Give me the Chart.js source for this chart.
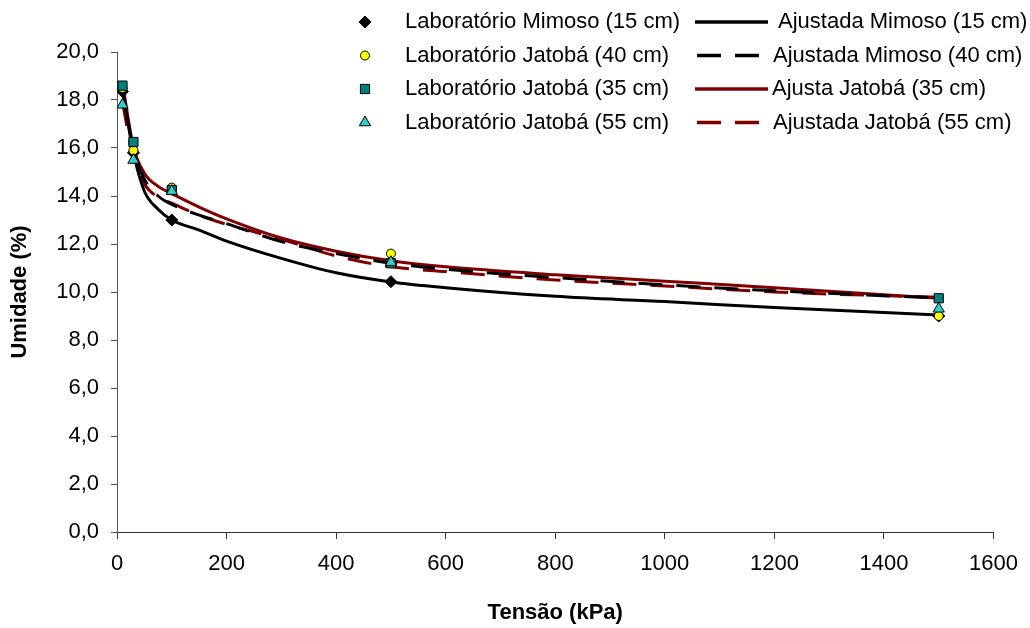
<!DOCTYPE html>
<html lang="pt">
<head>
<meta charset="utf-8">
<title>Umidade x Tensão</title>
<script src="https://cdn.jsdelivr.net/npm/chart.js@4.4.1/dist/chart.umd.min.js"></script>
<style>
	html, body { margin: 0; padding: 0; background: #fff; }
	#chart { display: block; }
</style>
</head>
<body>
<canvas id="chart" width="1030" height="628"></canvas>
<script>
// pontos medidos em laboratório (tensão em kPa, umidade em %)
const tensaoLab = [10, 30, 100, 500, 1500];
const labMimoso15 = [18.35, 15.8, 13.0, 10.43, 9.0];
const labJatoba40 = [18.5, 15.9, 14.35, 11.6, 9.0];
const labJatoba35 = [18.6, 16.25, 14.25, 11.2, 9.74];
const labJatoba55 = [17.8, 15.5, 14.2, 11.24, 9.3];

// curvas ajustadas
const tensaoAjuste = [10, 30, 50, 75, 100, 150, 200, 300, 400, 500, 600, 800, 1000, 1200, 1500];
const ajMimoso15 = [18.4, 15.8, 14.2, 13.45, 13.0, 12.58, 12.12, 11.4, 10.8, 10.42, 10.18, 9.82, 9.6, 9.35, 9.04];
const ajMimoso40 = [18.5, 15.95, 14.7, 14.0, 13.65, 13.2, 12.85, 12.1, 11.6, 11.2, 10.95, 10.6, 10.3, 10.05, 9.75];
const ajJatoba35 = [18.7, 16.05, 14.95, 14.4, 14.1, 13.54, 13.05, 12.25, 11.7, 11.3, 11.05, 10.72, 10.45, 10.18, 9.74];
const ajJatoba55 = [17.9, 15.6, 14.5, 13.95, 13.7, 13.2, 12.82, 12.2, 11.5, 11.05, 10.85, 10.5, 10.25, 10.0, 9.78];

const nomesLab = [
	"Laboratório Mimoso (15 cm)",
	"Laboratório Jatobá (40 cm)",
	"Laboratório Jatobá (35 cm)",
	"Laboratório Jatobá (55 cm)",
];
const nomesAjuste = [
	"Ajustada Mimoso (15 cm)",
	"Ajustada Mimoso (40 cm)",
	"Ajusta Jatobá (35 cm)",
	"Ajustada Jatobá (55 cm)",
];

const eixoX = { min: 0, max: 1600, passo: 200 };
const eixoY = { min: 0, max: 20, passo: 2 };

const FONTE = "'Liberation Sans', Arial, sans-serif";
const VINHO = "#800000";

function pares(xs, ys) {
	return xs.map((x, i) => ({ x: x, y: ys[i] }));
}

function pontos(label, ys, estilo, cor, raio, ordem) {
	return {
		label: label,
		data: pares(tensaoLab, ys),
		showLine: false,
		pointStyle: estilo,
		pointRadius: raio,
		pointBackgroundColor: cor,
		backgroundColor: cor,
		pointBorderColor: "#000",
		pointBorderWidth: 1,
		order: ordem,
	};
}

function curva(label, ys, cor, tracejado) {
	return {
		label: label,
		data: pares(tensaoAjuste, ys),
		showLine: true,
		borderColor: cor,
		borderWidth: 3,
		borderDash: tracejado ? [24, 14] : [],
		pointRadius: 0,
		cubicInterpolationMode: "monotone",
		fill: false,
		order: 10,
	};
}

const datasets = [
	pontos(nomesLab[0], labMimoso15, "rectRot", "#000000", 6, 3),
	pontos(nomesLab[1], labJatoba40, "circle", "#ffff00", 4.5, 2),
	pontos(nomesLab[2], labJatoba35, "rect", "#008080", 6.5, 1),
	pontos(nomesLab[3], labJatoba55, "triangle", "#33cccc", 6.5, 0),
	curva(nomesAjuste[0], ajMimoso15, "#000000", false),
	curva(nomesAjuste[1], ajMimoso40, "#000000", true),
	curva(nomesAjuste[2], ajJatoba35, VINHO, false),
	curva(nomesAjuste[3], ajJatoba55, VINHO, true),
];

// legenda em duas colunas, desenhada direto no canvas
const linhasLegenda = [22, 55.5, 89, 122.5];
const xTextoAjuste = [778, 773, 772, 773];

const legendaPlugin = {
	id: "legendaDupla",
	afterDraw(chart) {
		const ctx = chart.ctx;
		const sets = chart.data.datasets;
		ctx.save();
		ctx.font = "22px " + FONTE;
		ctx.textBaseline = "middle";
		linhasLegenda.forEach((y, i) => {
			const p = sets[i];
			const c = sets[i + 4];

			ctx.fillStyle = p.pointBackgroundColor;
			ctx.strokeStyle = "#000";
			ctx.lineWidth = 1;
			Chart.helpers.drawPoint(ctx, { pointStyle: p.pointStyle, radius: p.pointRadius, rotation: 0, borderWidth: 1 }, 365, y);

			ctx.fillStyle = "#000";
			ctx.fillText(p.label, 405, y);

			ctx.beginPath();
			ctx.setLineDash(c.borderDash);
			ctx.lineWidth = 3.5;
			ctx.strokeStyle = c.borderColor;
			const fim = c.borderDash.length ? 760 : 768;
			ctx.moveTo(c.borderDash.length ? 697 : 695, y);
			ctx.lineTo(fim, y);
			ctx.stroke();
			ctx.setLineDash([]);

			ctx.fillStyle = "#000";
			ctx.fillText(c.label, xTextoAjuste[i], y);
		});
		ctx.restore();
	},
};

new Chart(document.getElementById("chart"), {
	type: "scatter",
	data: { datasets: datasets },
	plugins: [legendaPlugin],
	options: {
		responsive: false,
		animation: false,
		layout: { padding: { top: 52, right: 33, left: 0, bottom: 0 } },
		plugins: {
			legend: { display: false },
			tooltip: { enabled: false },
		},
		scales: {
			x: {
				type: "linear",
				min: eixoX.min,
				max: eixoX.max,
				afterFit: (scale) => { scale.height = 96; },
				ticks: {
					stepSize: eixoX.passo,
					color: "#000",
					padding: 12,
					maxRotation: 0,
					font: { family: FONTE, size: 22 },
					callback: (v) => String(v),
				},
				grid: { drawOnChartArea: false, drawTicks: true, tickLength: 7, color: "#333" },
				border: { color: "#333", width: 1 },
				title: {
					display: true,
					text: "Tensão (kPa)",
					color: "#000",
					padding: { top: 0, bottom: 2 },
					font: { family: FONTE, size: 22, weight: "bold" },
				},
			},
			y: {
				min: eixoY.min,
				max: eixoY.max,
				afterFit: (scale) => { scale.width = 117; },
				ticks: {
					stepSize: eixoY.passo,
					color: "#000",
					padding: 12,
					font: { family: FONTE, size: 22 },
					callback: (v) => v.toFixed(1).replace(".", ","),
				},
				grid: { drawOnChartArea: false, drawTicks: true, tickLength: 6, color: "#555" },
				border: { color: "#555", width: 1 },
				title: {
					display: true,
					text: "Umidade (%)",
					color: "#000",
					padding: { top: 7, bottom: 0 },
					font: { family: FONTE, size: 22, weight: "bold" },
				},
			},
		},
	},
});
</script>
</body>
</html>
